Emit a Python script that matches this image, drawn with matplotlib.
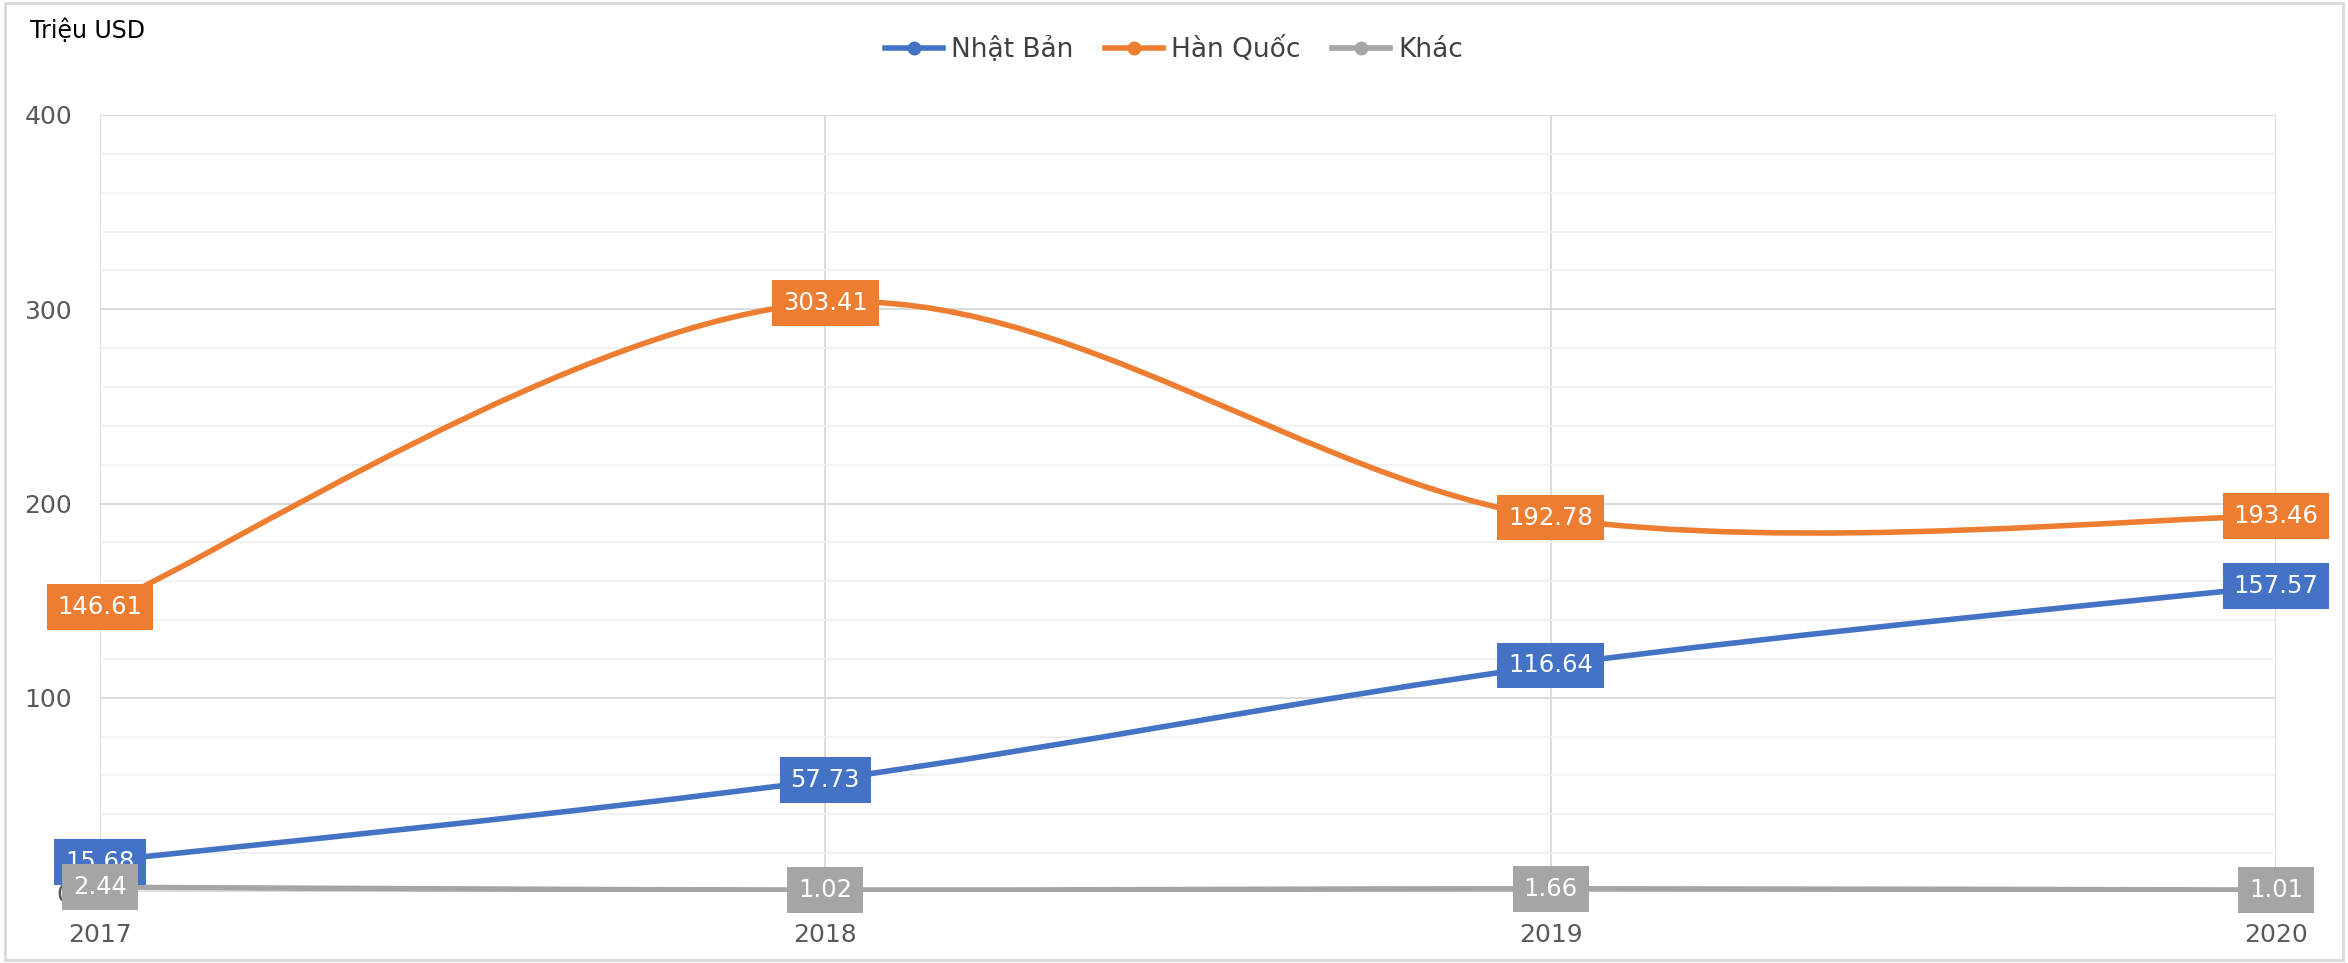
import numpy as np
import matplotlib.pyplot as plt
from matplotlib.path import Path
from matplotlib.patches import PathPatch, Rectangle
from matplotlib.lines import Line2D

plt.rcParams['font.family'] = ['DejaVu Sans']

years = ['2017', '2018', '2019', '2020']
nhat_ban = [15.68, 57.73, 116.64, 157.57]
han_quoc = [146.61, 303.41, 192.78, 193.46]
khac = [2.44, 1.02, 1.66, 1.01]

series = [
    ('Nhật Bản', nhat_ban, '#4472C4'),
    ('Hàn Quốc', han_quoc, '#ED7D31'),
    ('Khác', khac, '#A5A5A5'),
]


def smooth_path(xs, ys):
    # excel-like smoothed line: cubic bezier through the points
    pts = np.column_stack([xs, ys]).astype(float)
    n = len(pts)
    verts = [pts[0]]
    codes = [Path.MOVETO]
    for i in range(n - 1):
        p0 = pts[max(i - 1, 0)]
        p1 = pts[i]
        p2 = pts[i + 1]
        p3 = pts[min(i + 2, n - 1)]
        c1 = p1 + (p2 - p0) / 6
        c2 = p2 - (p3 - p1) / 6
        verts += [c1, c2, p2]
        codes += [Path.CURVE4] * 3
    return Path(verts, codes)


fig = plt.figure(figsize=(23.48, 9.63), dpi=100)
ax = fig.add_axes([0.0426, 0.0737, 0.9267, 0.8069])

x = np.arange(len(years))
for name, vals, col in series:
    ax.add_patch(PathPatch(smooth_path(x, vals), facecolor='none', edgecolor=col,
                           lw=4, capstyle='round', zorder=3))

# data labels
for k, (name, vals, col) in enumerate(series):
    for xi, v in zip(x, vals):
        ax.text(xi, v, f'{v:.2f}', ha='center', va='center', color='white',
                fontsize=17.5, zorder=5 + k,
                bbox=dict(boxstyle='square,pad=0.45', fc=col, ec='none'))

ax.set_xlim(0, 3)
ax.set_ylim(0, 400)
ax.set_xticks(x)
ax.set_xticklabels(years)
ax.set_yticks([0, 100, 200, 300, 400])
ax.set_yticks(np.arange(0, 401, 20), minor=True)
ax.grid(True, which='major', color='#D9D9D9', lw=1.3)
ax.grid(True, which='minor', axis='y', color='#F0F0F0', lw=1.3)
ax.set_axisbelow(True)
for s in ax.spines.values():
    s.set_visible(False)
ax.tick_params(axis='both', which='both', length=0, labelsize=18, labelcolor='#595959')
ax.tick_params(axis='y', pad=20)
ax.tick_params(axis='x', pad=22)

handles = [Line2D([], [], color=c, lw=4, marker='o', markersize=9) for _, _, c in series]
fig.legend(handles, [s[0] for s in series], loc='center', bbox_to_anchor=(0.5, 0.948),
           ncol=3, frameon=False, fontsize=19, handlelength=2.2, handletextpad=0.3,
           columnspacing=1.2, labelcolor='#404040')

fig.text(0.0128, 0.968, 'Triệu USD', fontsize=17, color='black', va='center', ha='left')

fig.patches.append(Rectangle((0.002, 0.003), 0.996, 0.994, transform=fig.transFigure,
                             fill=False, ec='#D9D9D9', lw=2))

fig.savefig('out.png', dpi=100)
